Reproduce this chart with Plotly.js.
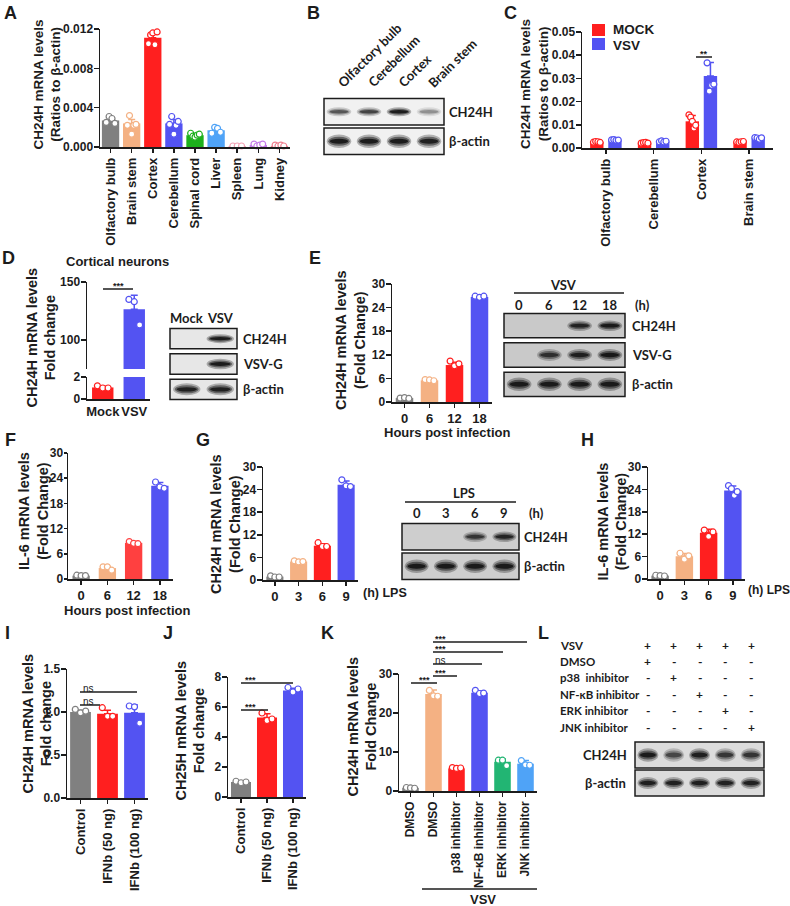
<!DOCTYPE html>
<html><head><meta charset="utf-8">
<script src="https://cdn.plot.ly/plotly-3.0.1.min.js"></script>
<style>html,body{margin:0;padding:0;background:#fff}#chart{width:790px;height:906px}</style>
</head><body><div id="chart"></div>
<script>
// ================= DATA =================
// Panel A
const aCats = ["Olfactory bulb","Brain stem","Cortex","Cerebellum","Spinal cord","Liver","Spleen","Lung","Kidney"];
const aMean = [0.0027,0.0024,0.0111,0.0024,0.0012,0.0017,0.0001,0.0002,0.0001];
const aErr  = [0.0003,0.0004,0.0005,0.0004,0.0002,0.0003,0.00003,0.0001,0.00005];
const aPts  = [[0.0025,0.0031,0.0029,0.0024],[0.0022,0.0032,0.0013,0.0022,0.0023],[0.0105,0.0114,0.0116,0.0104,0.0117],
               [0.0023,0.0031,0.0013,0.0022,0.0026],[0.0014,0.0011,0.0010,0.0012,0.0013],[0.0014,0.0020,0.0019,0.0015],
               [0.0001,0.0001,0.0001],[0.0003,0.0001,0.0002,0.0003],[0.0002,0.0001,0.0002,0.0001]];
// Panel B (blot band intensities)
const bLanes = ["Olfactory bulb","Cerebellum","Cortex","Brain stem"];
const bRows  = ["CH24H","β-actin"];
const bBands = [[0.55,0.65,0.95,0.3],[0.95,0.95,0.95,0.9]];
// Panel C
const cCats = ["Olfactory bulb","Cerebellum","Cortex","Brain stem"];
const cSeries = ["MOCK","VSV"];
const cMockMean = [0.0026,0.0022,0.0115,0.0026];
const cMockErr  = [0.0003,0.0002,0.0025,0.0002];
const cMockPts  = [[0.0025,0.0028,0.0027,0.0024],[0.0021,0.0023,0.0024,0.0021],[0.0143,0.0133,0.0115,0.0086,0.0098],[0.0026,0.0024,0.0027,0.0028]];
const cVsvMean  = [0.0034,0.0028,0.0310,0.0041];
const cVsvErr   = [0.0002,0.0003,0.0058,0.0004];
const cVsvPts   = [[0.0035,0.0036,0.0033,0.0034],[0.0027,0.0031,0.0026,0.0029],[0.0367,0.0245,0.0270,0.0275],[0.0045,0.0043,0.0038,0.0044]];
// Panel D
const dCats = ["Mock","VSV"];
const dMean = [1.05,126.5];
const dErr  = [0.1,12];
const dPts  = [[1.2,1.0,1.0],[135,133,113]];
const dLanes = ["Mock","VSV"];
const dRows  = ["CH24H","VSV-G","β-actin"];
const dBands = [[0,0.95],[0,0.95],[0.9,0.9]];
// Panel E
const eCats = ["0","6","12","18"];
const eMean = [1.0,5.5,9.4,26.7];
const eErr  = [0.1,0.2,0.7,0.2];
const ePts  = [[1.0,1.1,0.9],[5.7,5.6,5.4],[10.4,9.2,9.7],[26.9,26.6,26.9]];
const eLanes = ["0","6","12","18"];
const eRows  = ["CH24H","VSV-G","β-actin"];
const eBands = [[0,0,0.85,0.95],[0,0.75,0.88,0.97],[0.95,0.95,0.95,0.95]];
// Panel F
const fCats = ["0","6","12","18"];
const fMean = [0.8,2.6,8.6,22.2];
const fErr  = [0.1,0.4,0.3,0.8];
const fPts  = [[0.9,0.8,0.8],[2.9,2.9,2.1],[8.9,8.5,8.4],[23.1,21.9,21.6]];
// Panel G
const gCats = ["0","3","6","9"];
const gMean = [0.9,4.9,9.1,25.3];
const gErr  = [0.2,0.2,0.5,1.0];
const gPts  = [[1.1,0.8,0.8],[5.1,4.8,4.9],[9.9,8.9,8.9],[26.6,25.0,24.8]];
const gLanes = ["0","3","6","9"];
const gRows  = ["CH24H","β-actin"];
const gBands = [[0,0,0.7,0.85],[0.95,0.95,0.95,0.95]];
// Panel H
const hCats = ["0","3","6","9"];
const hMean = [0.9,6.1,12.4,23.7];
const hErr  = [0.1,0.7,0.9,1.2];
const hPts  = [[1.0,0.9,0.8],[6.9,5.3,6.2],[13.1,11.4,12.6],[25.0,24.2,22.4,23.4]];
// Panel I
const iCats = ["Control","IFNb (50 ng)","IFNb (100 ng)"];
const iMean = [1.0,0.98,0.99];
const iErr  = [0.02,0.04,0.09];
const iPts  = [[1.03,0.99,1.01],[1.05,0.95,0.95],[1.07,1.06,0.87]];
// Panel J
const jCats = ["Control","IFNb (50 ng)","IFNb (100 ng)"];
const jMean = [1.0,5.3,7.1];
const jErr  = [0.05,0.25,0.15];
const jPts  = [[1.05,0.95,1.0],[5.6,5.1,5.2],[7.3,7.0,7.2]];
// Panel K
const kCats = ["DMSO","DMSO","p38 inhibitor","NF-κB inhibitor","ERK inhibitor","JNK inhibitor"];
const kMean = [0.8,24.9,5.8,25.2,7.5,7.0];
const kErr  = [0.1,1.0,0.2,0.5,0.7,0.8];
const kPts  = [[0.9,0.8,0.7],[25.8,24.4,24.3],[6.0,5.8,5.9],[25.8,25.0,25.1],[7.9,7.9,6.5],[7.8,6.7,6.6]];
// Panel L
const lRowLabels = ["VSV","DMSO","p38\u00a0 inhibitor","NF-κB inhibitor","ERK inhibitor","JNK inhibitor"];
const lTreat = [[1,1,1,1,1],[1,0,0,0,0],[0,1,0,0,0],[0,0,1,0,0],[0,0,0,1,0],[0,0,0,0,1]];
const lLanes = ["1","2","3","4","5"];
const lRows  = ["CH24H","β-actin"];
const lBands = [[0.95,0.6,0.9,0.7,0.72],[0.9,0.88,0.9,0.88,0.88]];

// ================= STYLE / HELPERS =================
const W=790,H=906;
const PX=v=>v/W, PY=v=>1-v/H;
const FONT='Liberation Sans, Arial, Helvetica, sans-serif';
const BFONT='Lato, Carlito, Liberation Sans, sans-serif';
const INK='#1c1c1c';
const GRAY='#808080', TAN='#F4B183', RED='#FF1F1F', BLUE='#5353F2', GREEN='#1CB01C', LBLUE='#4FA3F7';
const aColors=[GRAY,TAN,RED,BLUE,GREEN,LBLUE,'#F4A0B4','#C57BEA','#F08090'];
const c4=[GRAY,TAN,RED,BLUE];
const c3=[GRAY,RED,BLUE];
const kColors=[GRAY,TAN,RED,BLUE,'#22B573',LBLUE];

const data=[];
const layout={width:W,height:H,margin:{l:0,r:0,t:0,b:0},paper_bgcolor:'#fff',plot_bgcolor:'rgba(0,0,0,0)',
  showlegend:false,barmode:'overlay',font:{family:FONT,color:INK},shapes:[],annotations:[]};

function axisBase(){return {showline:true,linecolor:INK,linewidth:1.5,ticks:'outside',ticklen:4,tickwidth:1.5,
  tickcolor:INK,showgrid:false,zeroline:false,fixedrange:true};}

function chart(n,g){
  const nc=g.cats.length;
  layout['xaxis'+n]=Object.assign(axisBase(),{domain:[PX(g.x0),PX(g.x1)],range:[-0.5,nc-0.5],anchor:'y'+n,
    tickmode:'array',tickvals:g.cats.map((_,i)=>i),ticktext:g.cats,tickangle:g.angle||0,
    ticks:g.xticks===undefined?'outside':g.xticks,
    tickfont:{family:FONT,size:g.xfs||13,weight:'bold',color:INK}});
  layout['yaxis'+n]=Object.assign(axisBase(),{domain:[PY(g.yb),PY(g.yt)],range:g.range,anchor:'x'+n,
    tickmode:'array',tickvals:g.yticks,tickformat:g.yfmt||'',ticklen:g.ytl||5,ticklabelstandoff:-2,
    tickfont:{family:FONT,size:12,weight:'bold',color:INK}});
}

function bars(n,means,errs,pts,colors,bw,o={}){
  const xa='x'+n, ya=o.ya||('y'+n), off=o.off||0;
  means.forEach((m,i)=>{
    const c=Array.isArray(colors)?colors[i]:colors;
    const hasErr=!!(errs&&errs[i]>0);
    data.push({type:'bar',x:[i+off],y:[m],width:bw,xaxis:xa,yaxis:ya,marker:{color:c,line:{width:0}},
      error_y:{visible:hasErr,type:'data',symmetric:false,array:[hasErr?errs[i]:0],arrayminus:[0],
        color:c,thickness:1.5,width:o.cap||3.5},hoverinfo:'skip'});
    if(pts&&pts[i]&&pts[i].length){
      const p=pts[i],k=p.length,sp=bw*0.5;
      data.push({type:'scatter',mode:'markers',x:p.map((_,j)=>i+off+(k>1?(j/(k-1)-0.5)*sp:0)),y:p,
        xaxis:xa,yaxis:ya,cliponaxis:false,
        marker:{size:o.ms||6,color:'#fff',line:{color:c,width:1.2}},hoverinfo:'skip'});
    }
  });
}

function txt(x,y,text,o={}){
  layout.annotations.push({xref:o.xref||'paper',yref:o.yref||'paper',x:o.xref?x:PX(x),y:o.yref?y:PY(y),text,
    showarrow:false,xanchor:o.xa||'center',yanchor:o.ya||'middle',textangle:o.angle||0,xshift:o.xshift||0,
    borderpad:o.bp===undefined?1:o.bp,
    font:{family:o.family||FONT,size:o.size||13,weight:o.weight||'bold',color:INK}});
}
function hline(x0,x1,y,w){
  layout.shapes.push({type:'line',xref:'paper',yref:'paper',x0:PX(x0),x1:PX(x1),y0:PY(y),y1:PY(y),line:{color:INK,width:w||1.2}});
}
// significance mark sitting right on top of its line
function sig(x0,x1,y,t,o={}){
  hline(x0,x1,y,1.5);
  const isNs=(t==='ns');
  txt(o.tx!==undefined?o.tx:(x0+x1)/2,isNs?y-3.5:y-3,t,{xa:o.xa||'center',size:isNs?10:9,weight:isNs?'normal':'bold',bp:0});
}
function ytitle(x1,x2,yc,l1,l2,size){
  txt((x1+x2)/2,yc,l1+'<br>'+l2,{angle:-90,size:size||14.5});
}

function blot(n,g,lanes,rows,bands){
  const nL=lanes.length,nR=rows.length,pad=4;
  const Lw=(g.x1-g.x0)/nL, Rh=(g.yb-g.yt)/nR;
  layout['xaxis'+n]={visible:false,domain:[PX(g.x0-pad),PX(g.x1+pad)],range:[-0.5-pad/Lw,nL-0.5+pad/Lw],anchor:'y'+n,fixedrange:true};
  layout['yaxis'+n]={visible:false,domain:[PY(g.yb+pad),PY(g.yt-pad)],range:[nR+pad/Rh,-pad/Rh],anchor:'x'+n,fixedrange:true};
  const gp=(g.gap||2)/Rh, bwf=g.bw||0.85;
  rows.forEach((name,r)=>{
    layout.shapes.push({type:'rect',xref:'x'+n,yref:'y'+n,x0:-0.5,x1:nL-0.5,y0:r+gp,y1:r+1-gp,
      fillcolor:g.bg,line:{color:INK,width:1.5}});
    const bh=(g.bandH?g.bandH[r]:7)/Rh;
    bands[r].forEach((a,i)=>{
      if(a<=0)return;
      [[0.48,1.5,0.3],[0.42,1.0,0.5],[0.36,0.55,0.85]].forEach(([hw,hh,al])=>{
        layout.shapes.push({type:'circle',xref:'x'+n,yref:'y'+n,x0:i-hw*bwf,x1:i+hw*bwf,
          y0:r+0.5-bh*hh/2,y1:r+0.5+bh*hh/2,fillcolor:'rgba(12,12,12,'+(a*al).toFixed(3)+')',line:{width:0}});
      });
    });
    if(g.rowX===undefined){
      txt(PX(g.x1+(g.rowGap||4)),r+0.5,name,{xref:'paper',yref:'y'+n,xa:'left',family:BFONT,size:g.rowFs||13});
    } else {
      txt(PX(g.rowX),r+0.5,name,{xref:'paper',yref:'y'+n,xa:'center',family:BFONT,size:g.rowFs||13});
    }
  });
  if(g.laneY!==undefined){
    lanes.forEach((l,i)=>{
      layout.annotations.push({xref:'x'+n,yref:'paper',x:i,y:PY(g.laneY),text:l,showarrow:false,
        textangle:g.laneAngle||0,xanchor:g.laneAngle?'left':'center',yanchor:g.laneAngle?'bottom':'middle',
        xshift:g.laneShift||0,font:{family:BFONT,size:g.laneFs||13,weight:'bold',color:INK}});
    });
  }
}

// ================= PANELS =================
// A
chart(1,{x0:100,x1:290,yt:29,yb:147,range:[0,0.012],yticks:[0,0.004,0.008,0.012],yfmt:'.3f',cats:aCats,angle:-90});
bars(1,aMean,aErr,aPts,aColors,0.82);
ytitle(38,55,85,'CH24H mRNA levels','(Ratios to β-actin)',13.5);
txt(10,13,'A',{size:18});

// B
blot(12,{x0:324,x1:444,yt:97,yb:156,bg:'#f1f1f1',bandH:[6,9],gap:1.5,laneY:93,laneAngle:-45,laneShift:-7,laneFs:13,rowGap:3},bLanes,bRows,bBands);
txt(313,13,'B',{size:18});

// C
chart(2,{x0:582,x1:773,yt:32,yb:148,range:[0,0.05],yticks:[0,0.01,0.02,0.03,0.04,0.05],yfmt:'.2f',cats:cCats,angle:-90});
bars(2,cMockMean,cMockErr,cMockPts,RED,0.28,{off:-0.19});
bars(2,cVsvMean,cVsvErr,cVsvPts,BLUE,0.28,{off:0.19});
ytitle(524,544,84,'CH24H mRNA levels','(Ratios to β-actin)',13.5);
txt(510,13,'C',{size:18});
[[RED,cSeries[0],30,29],[BLUE,cSeries[1],44,45]].forEach(([col,name,yc,ty])=>{
  layout.shapes.push({type:'rect',xref:'paper',yref:'paper',x0:PX(592),x1:PX(605),y0:PY(yc+6),y1:PY(yc-6),fillcolor:col,line:{width:0}});
  txt(612,ty,name,{xa:'left',size:13.5,bp:0});
});
sig(696,712,57,'**');

// D
chart(3,{x0:87,x1:150,yt:377,yb:399,range:[0,2],yticks:[0,2],cats:dCats,xticks:''});
layout.yaxis4=Object.assign(axisBase(),{domain:[PY(369),PY(282)],range:[75,150],anchor:'x3',tickmode:'array',tickvals:[100,150],
  ticklen:5,ticklabelstandoff:-2,tickfont:{family:FONT,size:12,weight:'bold',color:INK}});
const dC=[RED,BLUE];
bars(3,dMean,[dErr[0],0],[dPts[0],null],dC,0.68);
bars(3,dMean,[0,dErr[1]],[null,dPts[1]],dC,0.68,{ya:'y4'});
ytitle(32,49,338,'CH24H mRNA levels','Fold change');
txt(117,262,'Cortical neurons',{size:13});
sig(103,133,289,'***');
txt(8,258,'D',{size:18});
blot(13,{x0:170,x1:237,yt:326,yb:402,bg:'#e7e7e7',bandH:[6,7,8],gap:2.5,laneY:318,rowGap:4},dLanes,dRows,dBands);

// E
chart(5,{x0:392,x1:492,yt:284,yb:402,range:[0,30],yticks:[0,6,12,18,24,30],cats:eCats});
bars(5,eMean,eErr,ePts,c4,0.7);
ytitle(342,360,340,'CH24H mRNA levels','(Fold Change)');
txt(447,432,'Hours post infection',{size:13});
txt(315,258,'E',{size:18});
blot(14,{x0:504,x1:625,yt:311,yb:399,bg:'#c9c9c9',bandH:[7,8,9],gap:2.5,laneY:305,rowGap:5},eLanes,eRows,eBands);
txt(563,285,'VSV',{family:BFONT,size:13}); hline(514,624,293,1.5);
txt(633,305,'(h)',{xa:'left',family:BFONT,size:13});

// F
chart(6,{x0:68,x1:173,yt:453,yb:579,range:[0,30],yticks:[0,6,12,18,24,30],cats:fCats,ytl:3});
bars(6,fMean,fErr,fPts,[GRAY,TAN,'#FF4040',BLUE],0.66);
ytitle(24,42,511,'IL-6 mRNA levels','(Fold Change)');
txt(127,610,'Hours post infection',{size:13});
txt(10,440,'F',{size:18});

// G
chart(7,{x0:263,x1:358,yt:467,yb:580,range:[0,30],yticks:[0,6,12,18,24,30],cats:gCats});
bars(7,gMean,gErr,gPts,c4,0.72);
ytitle(217,233,524,'CH24H mRNA levels','(Fold Change)');
txt(361,593,'(h) LPS',{xa:'left',size:12.5});
txt(203,440,'G',{size:18});
blot(15,{x0:402,x1:519,yt:522,yb:581,bg:'#cecece',bandH:[7,9],gap:1.5,laneY:513,rowGap:3},gLanes,gRows,gBands);
txt(464,493,'LPS',{family:BFONT,size:13}); hline(405,516,502,1.5);
txt(527,513,'(h)',{xa:'left',family:BFONT,size:13});

// H
chart(8,{x0:648,x1:745,yt:467,yb:579,range:[0,30],yticks:[0,6,12,18,24,30],cats:hCats});
bars(8,hMean,hErr,hPts,c4,0.72);
ytitle(603,620,522,'IL-6 mRNA levels','(Fold Change)');
txt(746,590,'(h) LPS',{xa:'left',size:12});
txt(587,440,'H',{size:18});

// I
chart(9,{x0:67,x1:148,yt:669,yb:798,range:[0,1.5],yticks:[0,0.5,1,1.5],yfmt:'.1f',cats:iCats,angle:-90});
bars(9,iMean,iErr,iPts,c3,0.77);
ytitle(28,45,724,'CH24H mRNA levels','Fold change');
sig(80,137,692,'ns',{tx:88});
sig(80,100,705,'ns',{tx:88});
txt(7,633,'I',{size:18});

// J
chart(10,{x0:228,x1:306,yt:677,yb:797,range:[0,8],yticks:[0,2,4,6,8],cats:jCats,angle:-90});
bars(10,jMean,jErr,jPts,c3,0.77);
ytitle(180,199,731,'CH25H mRNA levels','Fold change');
sig(241,293,683,'***',{tx:250});
sig(241,268,710,'***',{tx:250});
txt(168,633,'J',{size:18});

// K
chart(11,{x0:399,x1:537,yt:674,yb:791,range:[0,30],yticks:[0,10,20,30],cats:kCats,angle:-90,xfs:12});
bars(11,kMean,kErr,kPts,kColors,0.72);
ytitle(353,370,727,'CH24H mRNA levels','Fold Change');
[[642,527,'***'],[652,503,'***'],[664,482,'ns'],[676,457,'***']].forEach(([y,x1,t])=>{
  sig(433,x1,y,t,{tx:434,xa:'left'});
});
sig(411,437,683,'***',{tx:424});
hline(422,537,889,1.5); txt(483,899,'VSV',{size:13});
txt(327,633,'K',{size:18});

// L
txt(543,633,'L',{size:18});
blot(16,{x0:635,x1:764,yt:741,yb:797,bg:'#dcdcdc',bandH:[9,8],gap:1,rowX:605,rowFs:13},lLanes,lRows,lBands);
lRowLabels.forEach((lab,r)=>{
  const y=645+r*16.4;
  txt(558,y,lab,{xa:'left',family:BFONT,size:11.5});
  lTreat[r].forEach((v,i)=>txt(i,PY(y),v?'+':'-',{xref:'x16',yref:'paper',family:BFONT,size:12}));
});

Plotly.newPlot('chart',data,layout,{staticPlot:true,displayModeBar:false});
</script>
</body></html>
